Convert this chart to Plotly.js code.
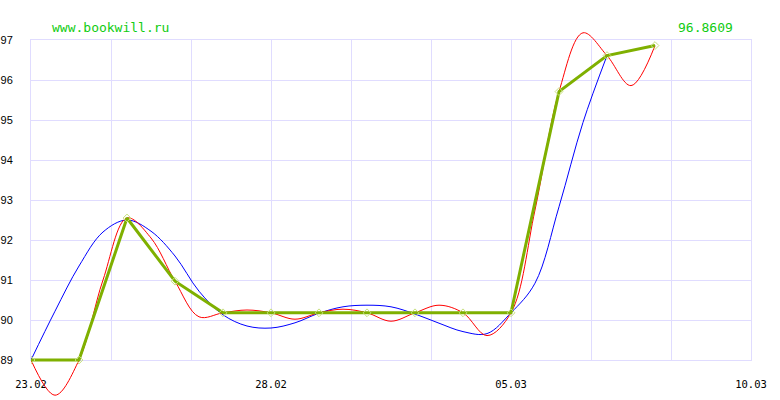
<!DOCTYPE html>
<html>
<head>
<meta charset="utf-8">
<script src="https://cdn.plot.ly/plotly-3.0.1.min.js"></script>
<style>html,body{margin:0;padding:0;background:#fff;}#chart{width:780px;height:400px;}</style>
</head>
<body>
<div id="chart"></div>
<script>
// Tick labels (day index -> date label)
const tickDays = [0, 5, 10, 15];
const tickLabels = ["23.02", "28.02", "05.03", "10.03"];

// Green series: daily values
const greenDays = [0, 1, 2, 3, 4, 5, 6, 7, 8, 9, 10, 11, 12, 13];
const greenValues = [89, 89, 92.55, 90.97, 90.18, 90.18, 90.18, 90.18, 90.18, 90.18, 90.18, 95.71, 96.61, 96.8609];

// Red curve: values read at half-day steps
const redDays = [0, 0.5, 1, 1.5, 2, 2.5, 3, 3.5, 4, 4.5, 5, 5.5, 6, 6.5, 7, 7.5, 8, 8.5, 9, 9.5, 10, 10.5, 11, 11.5, 12, 12.5, 13];
const redValues = [89, 88.12, 89, 91.0, 92.55, 92.05, 90.97, 90.08, 90.18, 90.25, 90.18, 90.02, 90.18, 90.27, 90.18, 89.97, 90.18, 90.37, 90.18, 89.61, 90.18, 92.75, 95.71, 97.18, 96.61, 95.86, 96.8609];

// Blue curve: values read at half-day steps
const blueDays = [0, 0.5, 1, 1.5, 2, 2.5, 3, 3.5, 4, 4.5, 5, 5.5, 6, 6.5, 7, 7.5, 8, 8.5, 9, 9.5, 10, 10.5, 11, 11.5, 12];
const blueValues = [89, 90.22, 91.35, 92.2, 92.5, 92.22, 91.6, 90.72, 90.13, 89.85, 89.8, 89.93, 90.17, 90.33, 90.37, 90.33, 90.15, 89.92, 89.71, 89.66, 90.18, 90.92, 92.83, 94.94, 96.61];

const siteText = "www.bookwill.ru";
const lastValueText = "96.8609";

const gridCol = "#e0dcff";

const traces = [
  {x: [], y: [], xaxis: "x", yaxis: "y", type: "scatter", mode: "lines", showlegend: false, hoverinfo: "skip"},
  {x: blueDays, y: blueValues, xaxis: "x2", yaxis: "y2", type: "scatter", mode: "lines",
   line: {color: "#0000ff", width: 1, shape: "spline", smoothing: 1}, showlegend: false},
  {x: redDays, y: redValues, xaxis: "x2", yaxis: "y2", type: "scatter", mode: "lines",
   line: {color: "#ff0000", width: 1, shape: "spline", smoothing: 1}, showlegend: false},
  {x: greenDays, y: greenValues, xaxis: "x2", yaxis: "y2", type: "scatter", mode: "lines+markers",
   line: {color: "#7fb000", width: 3}, marker: {symbol: "diamond-open", size: 6, color: "#c8e080", line: {width: 1}},
   showlegend: false}
];

const layout = {
  width: 780, height: 400,
  margin: {l: 31, r: 29, t: 0, b: 0, pad: 0},
  paper_bgcolor: "#ffffff",
  plot_bgcolor: "rgba(0,0,0,0)",
  showlegend: false,
  xaxis: {
    domain: [0, 1], range: [0, 15], anchor: "y",
    tickmode: "array", tickvals: tickDays, ticktext: tickLabels,
    showgrid: true, gridcolor: gridCol, gridwidth: 1,
    minor: {tick0: 0, dtick: 5 / 3, showgrid: true, gridcolor: gridCol, gridwidth: 1},
    showline: true, linecolor: gridCol, linewidth: 1, mirror: true,
    zeroline: false, ticks: "outside", ticklen: 14, tickcolor: "rgba(0,0,0,0)",
    tickfont: {family: "DejaVu Sans Mono", size: 10.5, color: "#000"}
  },
  yaxis: {
    domain: [0.1, 0.9], range: [89, 97], anchor: "x",
    tickmode: "linear", tick0: 89, dtick: 1,
    showgrid: true, gridcolor: gridCol, gridwidth: 1,
    showline: true, linecolor: gridCol, linewidth: 1, mirror: true,
    zeroline: false, ticks: "outside", ticklen: 15, tickcolor: "rgba(0,0,0,0)",
    tickfont: {family: "Liberation Sans", size: 11, color: "#000"}
  },
  xaxis2: {domain: [0, 1], range: [0, 15], anchor: "y2", visible: false, showgrid: false, zeroline: false},
  yaxis2: {domain: [0, 1], range: [88, 98], anchor: "x2", visible: false, showgrid: false, zeroline: false},
  annotations: [
    {text: siteText, xref: "paper", yref: "paper", x: 0.0264, y: 0.93, xanchor: "left", yanchor: "middle",
     showarrow: false, font: {family: "DejaVu Sans Mono", size: 13, color: "#11cc11"}},
    {text: lastValueText, xref: "paper", yref: "paper", x: 0.9778, y: 0.93, xanchor: "right", yanchor: "middle",
     showarrow: false, font: {family: "DejaVu Sans Mono", size: 13, color: "#11cc11"}}
  ]
};

Plotly.newPlot("chart", traces, layout, {staticPlot: true, displayModeBar: false});
</script>
</body>
</html>
